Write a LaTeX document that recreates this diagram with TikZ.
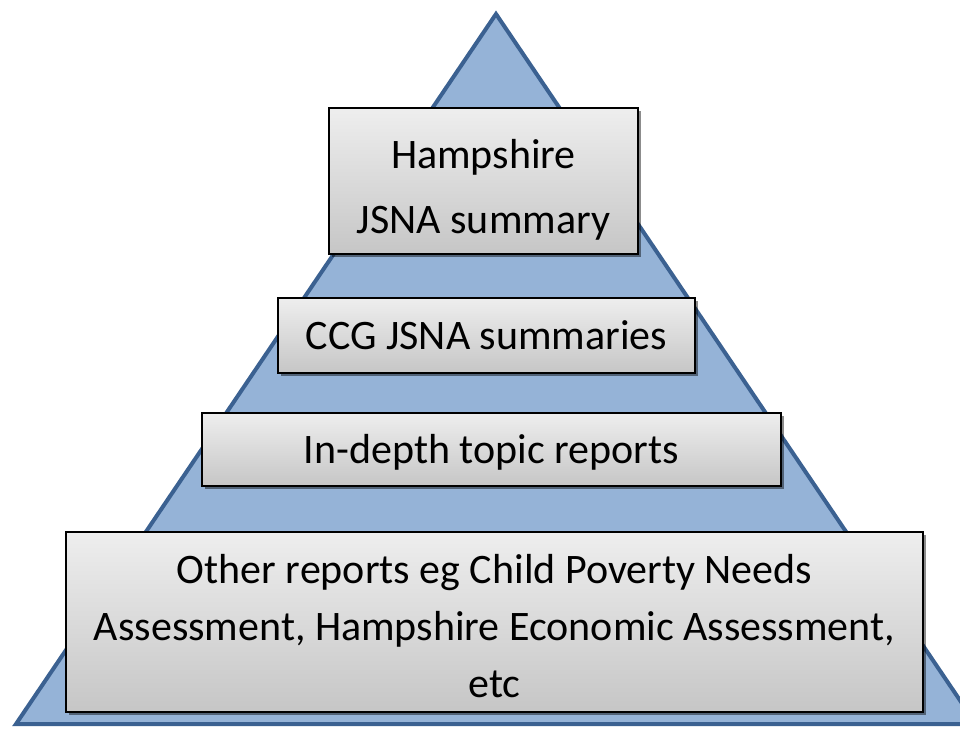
\documentclass[tikz,border=0pt]{standalone}
\usepackage{fontspec}
\setmainfont{Carlito}
\usetikzlibrary{shadows}
\definecolor{triFill}{HTML}{95B3D7}
\definecolor{triLine}{HTML}{3B6191}
\definecolor{boxTop}{HTML}{EEEEEE}
\definecolor{boxBot}{HTML}{C6C6C6}
\tikzset{
  levelbox/.style={draw=black, line width=1.8pt, top color=boxTop, bottom color=boxBot,
    inner sep=0pt, align=center,
    drop shadow={shadow xshift=2.5pt, shadow yshift=-2.5pt, opacity=0.45, fill=black}},
  bigtext/.style={font=\fontsize{42}{65}\selectfont},
  smalltext/.style={font=\fontsize{42}{57}\selectfont}
}
\begin{document}
\begin{tikzpicture}[x=1pt,y=-1pt]
\useasboundingbox (0,0) rectangle (960,728);
\begin{scope}
\clip (0,0) rectangle (960,728);
\coordinate (apex) at (496,14);
\coordinate (bl) at (16,724);
\coordinate (br) at (976,724);
\draw[fill=triFill, draw=triLine, line width=4pt, line join=miter] (apex) -- (br) -- (bl) -- cycle;
\end{scope}
\node[levelbox, bigtext, minimum width=309pt, minimum height=146pt] (b1) at (483.5,181) {\rule{0pt}{46pt}Hampshire\\JSNA summary};
\node[levelbox, bigtext, minimum width=417pt, minimum height=75pt] (b2) at (486.5,335.5) {CCG JSNA summaries};
\node[levelbox, bigtext, minimum width=579pt, minimum height=73pt] (b3) at (491.5,449.5) {\rule{0pt}{35pt}In-depth topic reports};
\node[levelbox, smalltext, minimum width=857pt, minimum height=180pt] (b4) at (494.5,622) {\rule{0pt}{37pt}Other reports eg Child Poverty Needs\\Assessment, Hampshire Economic Assessment,\\etc};
\end{tikzpicture}
\end{document}
